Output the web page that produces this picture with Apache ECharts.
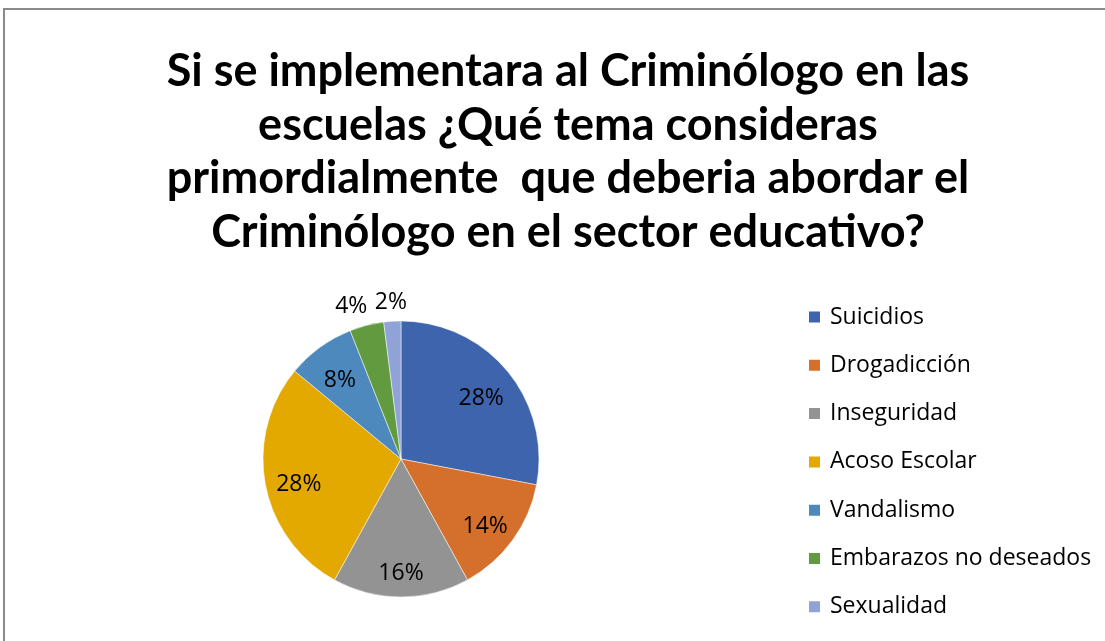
<!DOCTYPE html>
<html>
<head>
<meta charset="utf-8">
<script src="https://cdn.jsdelivr.net/npm/echarts@6/dist/echarts.min.js"></script>
<style>
  html, body { margin: 0; padding: 0; background: #fff; }
  #main { width: 1105px; height: 641px; }
</style>
</head>
<body>
<div id="main"></div>
<script>
// datos del grafico
const titleLines = [
  'Si se implementara al Criminólogo en las',
  'escuelas ¿Qué tema consideras',
  'primordialmente  que deberia abordar el',
  'Criminólogo en el sector educativo?'
];
const categories = ['Suicidios', 'Drogadicción', 'Inseguridad', 'Acoso Escolar', 'Vandalismo', 'Embarazos no deseados', 'Sexualidad'];
const values = [28, 14, 16, 28, 8, 4, 2];
const colors = ['#3e64ad', '#d56f2c', '#939393', '#e3a900', '#4e89be', '#629b3f', '#8fa3d6'];
// las rebanadas pequeñas llevan la etiqueta por fuera
const outsideLabel = [false, false, false, false, false, true, true];

const myChart = echarts.init(document.getElementById('main'));

const fontMain = '"Open Sans", "Noto Sans", sans-serif';
const center = [401, 459];

const pieData = categories.map((name, i) => ({
  name: name,
  value: values[i],
  itemStyle: { color: colors[i] }
}));

// series solo para etiquetas (transparentes)
function labelData(showOutside) {
  return categories.map((name, i) => ({
    name: name,
    value: values[i],
    label: { show: outsideLabel[i] === showOutside }
  }));
}

const labelBase = {
  type: 'pie',
  center: center,
  silent: true,
  avoidLabelOverlap: false,
  emphasis: { disabled: true },
  itemStyle: { color: 'rgba(0,0,0,0)', borderWidth: 0 },
  labelLine: { show: false },
  label: {
    position: 'inside',
    formatter: '{d}%',
    color: '#000',
    fontFamily: fontMain,
    fontSize: 23
  }
};

const option = {
  backgroundColor: '#fff',
  animation: false,
  color: colors,
  title: {
    text: titleLines.join('\n'),
    left: 563,
    textAlign: 'center',
    top: 40,
    textStyle: {
      fontFamily: 'Lato, "Open Sans", sans-serif',
      fontWeight: 'bold',
      fontSize: 45,
      lineHeight: 53.5,
      color: '#000'
    }
  },
  legend: {
    orient: 'vertical',
    left: 807,
    top: 305.5,
    padding: 0,
    icon: 'rect',
    itemWidth: 13,
    itemHeight: 13,
    itemGap: 25.3,
    data: categories,
    selectedMode: false,
    textStyle: {
      fontFamily: fontMain,
      fontSize: 23,
      lineHeight: 23,
      color: '#000',
      padding: [0, 0, 0, 4]
    }
  },
  graphic: [{
    type: 'rect',
    shape: { x: 4, y: 9, width: 1300, height: 800 },
    style: { fill: 'none', stroke: '#8a8a8a', lineWidth: 2 },
    silent: true
  }],
  series: [
    {
      name: 'tema',
      type: 'pie',
      center: center,
      radius: 138,
      startAngle: 90,
      clockwise: true,
      data: pieData,
      label: { show: false },
      labelLine: { show: false },
      emphasis: { disabled: true },
      itemStyle: { borderColor: '#fff', borderWidth: 0.5 }
    },
    Object.assign({}, labelBase, {
      name: 'etiquetas',
      radius: [64, 138],
      data: labelData(false),
      labelLayout: function (p) {
        return { dy: p.dataIndex === 2 ? 10 : 6, hideOverlap: false };
      }
    }),
    Object.assign({}, labelBase, {
      name: 'etiquetas2',
      radius: [138, 176],
      data: labelData(true),
      labelLayout: function (p) {
        // separar un poco 4% y 2% como en Excel
        return { dx: p.dataIndex === 5 ? -10 : 0, dy: p.dataIndex === 5 ? 2 : 3, hideOverlap: false };
      }
    })
  ]
};

myChart.setOption(option);
</script>
</body>
</html>
